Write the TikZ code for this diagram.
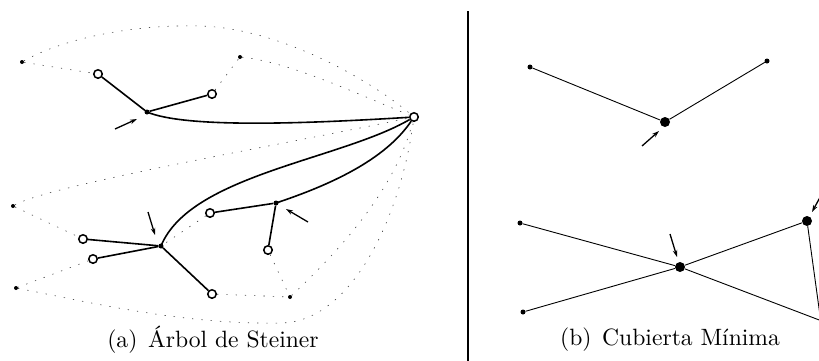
\documentclass[tikz,border=0pt]{standalone}
\usepackage{fontspec}
\usetikzlibrary{arrows.meta}
\begin{document}
\begin{tikzpicture}[x=1pt,y=-1pt,
  hollow/.style={circle, draw, line width=1.5pt, inner sep=0pt, minimum size=8.5pt, fill=white},
  steiner/.style={circle, fill, inner sep=0pt, minimum size=5pt},
  smalldot/.style={circle, fill, inner sep=0pt, minimum size=4pt},
  bigdot/.style={circle, fill, inner sep=0pt, minimum size=10pt},
  tree/.style={line width=1.6pt},
  dots/.style={line width=0.6pt, black!75, dash pattern=on 1.3pt off 8pt},
  mst/.style={line width=0.9pt},
  pointer/.style={line width=1.3pt, -{Stealth[length=7pt,width=4.5pt]}},
  caption/.style={anchor=base, inner sep=0pt, font=\fontsize{10}{12}\selectfont}]
\useasboundingbox (0,0) rectangle (819,360);
\clip (0,0) rectangle (819,360);

% ---------- left panel: nodes ----------
\node[hollow] (h1) at (98,74) {};
\node[hollow] (h2) at (212,94) {};
\node[hollow] (hub) at (414,117) {};
\node[hollow] (h3) at (210,213) {};
\node[hollow] (h4) at (268,250) {};
\node[hollow] (h5) at (212,294) {};
\node[hollow] (h6) at (83,239) {};
\node[hollow] (h7) at (93,259) {};
\node[steiner] (sA) at (147,112) {};
\node[steiner] (sB) at (276,203) {};
\node[steiner] (sC) at (161,246) {};
\node[smalldot] (d1) at (22,62) {};
\node[smalldot] (d2) at (240,57) {};
\node[smalldot] (d3) at (13,206) {};
\node[smalldot] (d4) at (16,288) {};
\node[smalldot] (d5) at (290,297) {};
\coordinate (m1) at (200,26);
\coordinate (m2) at (280,323);

% ---------- left panel: dotted spanning edges ----------
\draw[dots] (d1) .. controls (60,40) and (130,24) .. (m1) .. controls (280,28) and (370,80) .. (hub);
\draw[dots] (d1) -- (h1);
\draw[dots] (h2) -- (d2);
\draw[dots] (d2) .. controls (290,62) and (360,95) .. (hub);
\draw[dots] (d3) .. controls (50,185) and (280,145) .. (hub);
\draw[dots] (d3) -- (h6);
\draw[dots] (h7) -- (d4);
\draw[dots] (d4) .. controls (80,300) and (180,325) .. (m2) .. controls (350,323) and (400,220) .. (hub);
\draw[dots] (d5) .. controls (340,250) and (395,190) .. (hub);
\draw[dots] (h5) -- (d5);
\draw[dots] (h4) -- (d5);
\draw[dots] (h3) -- (sC);

% ---------- left panel: Steiner tree ----------
\draw[tree] (h1) -- (sA);
\draw[tree] (sA) -- (h2);
\draw[tree] (sA.center) .. controls (185,128) and (300,124) .. (hub);
\draw[tree] (sC.center) .. controls (190,175) and (340,160) .. (hub);
\draw[tree] (sB.center) .. controls (330,185) and (385,160) .. (hub);
\draw[tree] (h3) -- (sB);
\draw[tree] (sB) -- (h4);
\draw[tree] (h6) -- (sC);
\draw[tree] (h7) -- (sC);
\draw[tree] (sC) -- (h5);

% ---------- left panel: pointers ----------
\coordinate (pa0) at (115,129); \coordinate (pa1) at (137,119);
\coordinate (pc0) at (148,212); \coordinate (pc1) at (155,235);
\coordinate (pb0) at (308,222); \coordinate (pb1) at (286,209);
\draw[pointer] (pa0) -- (pa1);
\draw[pointer] (pc0) -- (pc1);
\draw[pointer] (pb0) -- (pb1);

\node[caption] (capa) at (213,347) {\scalebox{2.36}{(a)\hspace{0.45em}Árbol de Steiner}};

% ---------- separator ----------
\coordinate (v0) at (468,11);
\coordinate (v1) at (468,362);
\draw[line width=1.3pt] (v0) -- (v1);

% ---------- right panel ----------
\node[smalldot, minimum size=5pt] (r1) at (530,67) {};
\node[smalldot, minimum size=5pt] (r2) at (767,61) {};
\node[bigdot] (R1) at (665,122) {};
\node[smalldot, minimum size=5pt] (r3) at (520,223) {};
\node[smalldot, minimum size=5pt] (r4) at (523,312) {};
\node[bigdot] (R2) at (680,267) {};
\node[bigdot] (R3) at (807,221) {};
\coordinate (e1) at (835,326);
\coordinate (e2) at (822,330);

\draw[mst] (r1) -- (R1);
\draw[mst] (R1) -- (r2);
\draw[mst] (r3) -- (R2);
\draw[mst] (R2) -- (e1);
\draw[mst] (r4) -- (R2);
\draw[mst] (R2) -- (R3);
\draw[mst] (R3) -- (e2);

\coordinate (q10) at (642,146); \coordinate (q11) at (659,131);
\coordinate (q20) at (670,234); \coordinate (q21) at (677,257);
\coordinate (q30) at (824,190); \coordinate (q31) at (812,212);
\draw[pointer] (q10) -- (q11);
\draw[pointer] (q20) -- (q21);
\draw[pointer] (q30) -- (q31);

\node[caption] (capb) at (670,345) {\scalebox{2.36}{(b)\hspace{0.45em}Cubierta Mínima}};
\end{tikzpicture}
\end{document}
